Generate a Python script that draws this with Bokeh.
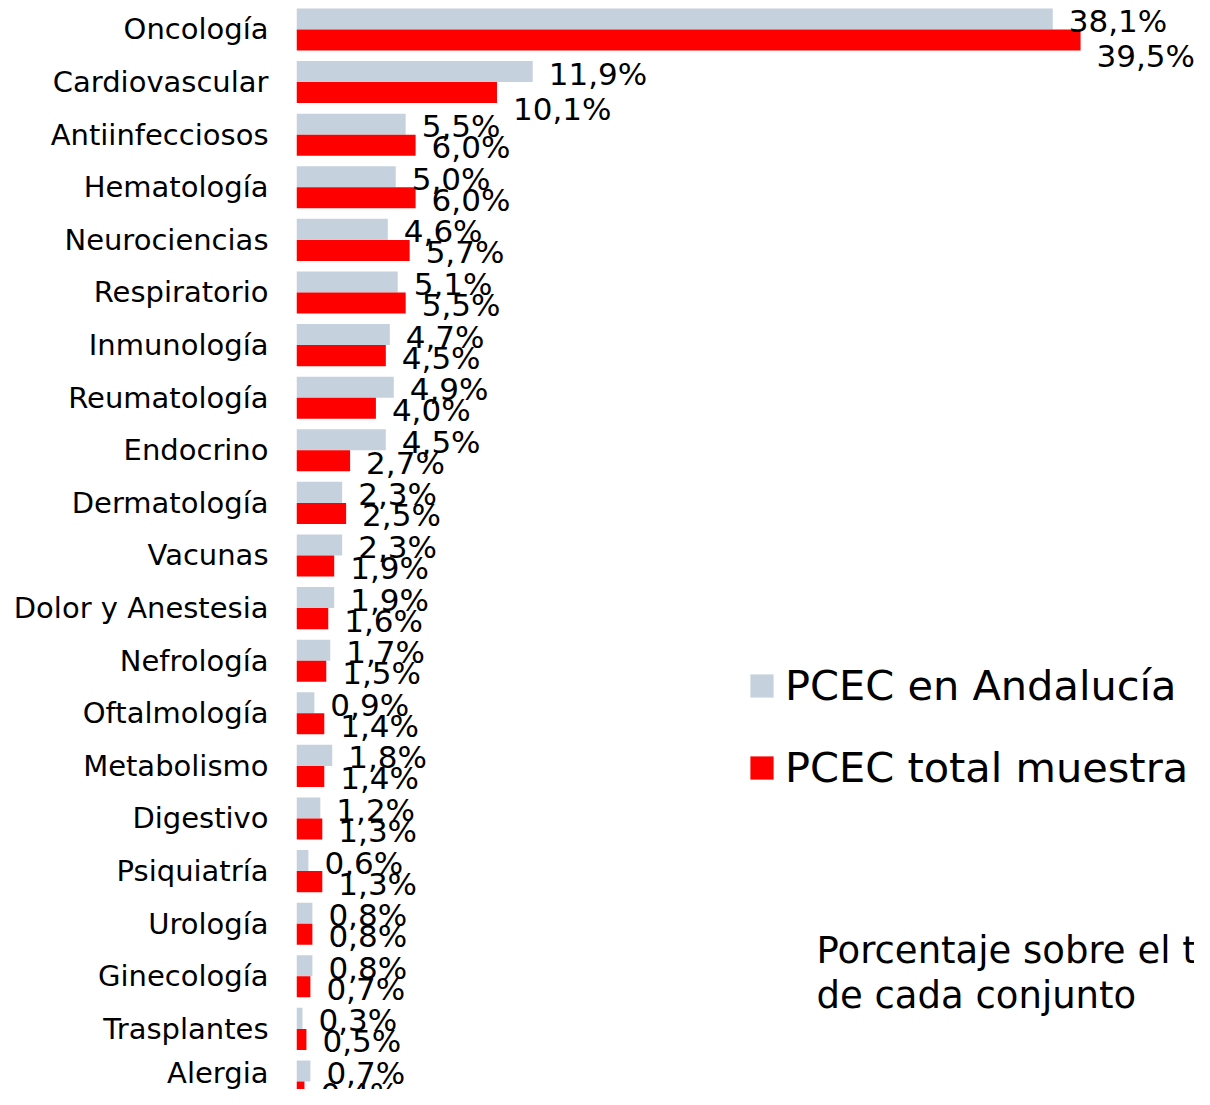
from bokeh.plotting import figure
from bokeh.models import Range1d, FixedTicker, ColumnDataSource, Legend, LegendItem, Label
from bokeh.transform import dodge
from bokeh.core.properties import value
from bokeh.embed import file_html
from bokeh.resources import INLINE

categories = ["Oncología", "Cardiovascular", "Antiinfecciosos", "Hematología", "Neurociencias",
              "Respiratorio", "Inmunología", "Reumatología", "Endocrino", "Dermatología",
              "Vacunas", "Dolor y Anestesia", "Nefrología", "Oftalmología", "Metabolismo",
              "Digestivo", "Psiquiatría", "Urología", "Ginecología", "Trasplantes", "Alergia"]
andalucia = [38.1, 11.9, 5.5, 5.0, 4.6, 5.1, 4.7, 4.9, 4.5, 2.3, 2.3, 1.9, 1.7, 0.9, 1.8, 1.2, 0.6, 0.8, 0.8, 0.3, 0.7]
total = [39.5, 10.1, 6.0, 6.0, 5.7, 5.5, 4.5, 4.0, 2.7, 2.5, 1.9, 1.6, 1.5, 1.4, 1.4, 1.3, 1.3, 0.8, 0.7, 0.5, 0.4]
series_names = ["PCEC en Andalucía", "PCEC total muestra"]
note_lines = ["Porcentaje sobre el total", "de cada conjunto"]

GRAY = "#C5D2DD"
RED = "#FF0000"
FONT = "DejaVu Sans"

n = len(categories)
pos = [n - 1 - i for i in range(n)]


def fmt(v):
    return f"{v:.1f}".replace(".", ",") + "%"


# label placement (screen px): the two largest red labels sit below their bars
red_dy = [16 if i < 2 else 2 for i in range(n)]

src = ColumnDataSource(dict(
    pos=pos, cat=categories, a=andalucia, t=total,
    a_lbl=[fmt(v) for v in andalucia], t_lbl=[fmt(v) for v in total],
    red_dy=red_dy,
))

p = figure(width=1194, height=1089,
           x_range=Range1d(0, 45.24), y_range=Range1d(-0.152, 20.551),
           output_backend="svg", toolbar_location=None,
           x_axis_location=None,
           min_border_left=296, min_border_right=0, min_border_top=0, min_border_bottom=0)
p.xgrid.visible = False
p.ygrid.visible = False
p.outline_line_color = None

r1 = p.hbar(y=dodge("pos", 0.2), right="a", left=0, height=0.4, source=src,
            fill_color=GRAY, line_color=None)
r2 = p.hbar(y=dodge("pos", -0.2), right="t", left=0, height=0.4, source=src,
            fill_color=RED, line_color=None)

p.text(x="a", y=dodge("pos", 0.2), text="a_lbl", source=src, x_offset=16, y_offset=2,
       text_align="left", text_baseline="middle", text_font=value(FONT),
       text_font_size="31px", text_color="black")
p.text(x="t", y=dodge("pos", -0.2), text="t_lbl", source=src, x_offset=16, y_offset="red_dy",
       text_align="left", text_baseline="middle", text_font=value(FONT),
       text_font_size="31px", text_color="black")

ax = p.yaxis[0]
ax.ticker = FixedTicker(ticks=pos)
ax.major_label_overrides = {pp: c for pp, c in zip(pos, categories)}
ax.major_tick_line_color = None
ax.minor_tick_line_color = None
ax.axis_line_color = None
ax.major_label_standoff = 22
ax.major_label_text_font = FONT
ax.major_label_text_font_size = "29px"
ax.major_label_text_color = "black"

legend = Legend(items=[LegendItem(label=series_names[0], renderers=[r1]),
                       LegendItem(label=series_names[1], renderers=[r2])],
                location=(451, 297), orientation="vertical",
                glyph_width=29, glyph_height=29, label_standoff=9,
                label_text_font=FONT, label_text_font_size="41.5px",
                label_text_color="black", spacing=33, padding=0, margin=0,
                border_line_color=None, background_fill_alpha=0)
p.add_layout(legend)

p.add_layout(Label(x=520, y=139, x_units="screen", y_units="screen", text=note_lines[0],
                   text_font=FONT, text_font_size="37px", text_baseline="middle",
                   text_color="black"))
p.add_layout(Label(x=520, y=94, x_units="screen", y_units="screen", text=note_lines[1],
                   text_font=FONT, text_font_size="37px", text_baseline="middle",
                   text_color="black"))

open("out.html", "w").write(file_html(p, INLINE))
